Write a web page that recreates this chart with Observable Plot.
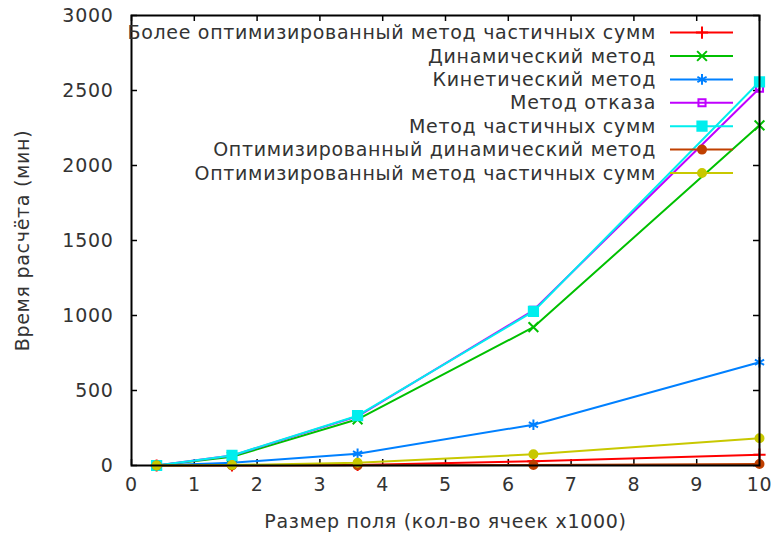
<!DOCTYPE html>
<html>
<head>
<meta charset="utf-8">
<script src="https://cdn.jsdelivr.net/npm/d3@7"></script>
<script src="https://cdn.jsdelivr.net/npm/@observablehq/plot@0.6"></script>
<style>
  html, body { margin: 0; padding: 0; background: #fff; }
  #chart svg { display: block; }
</style>
</head>
<body>
<div id="chart"></div>
<script>
// ---- data ----
const cellsK = [0.4, 1.6, 3.6, 6.4, 10];          // размер поля, тыс. ячеек
const seriesNames = [
  "Более оптимизированный метод частичных сумм",
  "Динамический метод",
  "Кинетический метод",
  "Метод отказа",
  "Метод частичных сумм",
  "Оптимизированный динамический метод",
  "Оптимизированный метод частичных сумм"
];
const moreOptPartialSums = [0, 1, 4, 28, 72];
const dynamicMethod      = [0, 58, 308, 922, 2268];
const kineticMethod      = [0, 18, 78, 272, 688];
const rejectionMethod    = [0, 66, 328, 1035, 2515];
const partialSums        = [0, 67, 332, 1027, 2558];
const optDynamic         = [0, 0, 1, 3, 10];
const optPartialSums     = [0, 3, 18, 75, 182];
const xTicks = [0, 1, 2, 3, 4, 5, 6, 7, 8, 9, 10];
const yTicks = [0, 500, 1000, 1500, 2000, 2500, 3000];

// ---- styles ----
const seriesValues = [moreOptPartialSums, dynamicMethod, kineticMethod, rejectionMethod, partialSums, optDynamic, optPartialSums];
const colors  = ["#ff0000", "#00c000", "#0080ff", "#c000ff", "#00eeee", "#c04000", "#c8c800"];
const symbols = ["plus", "times", "asterisk", "square", "square", "circle", "circle"];
const filled  = [false, false, false, false, true, true, true];
const radii   = [4, 4.5, 5, 4, 5.2, 4, 4];

const rows = [];
seriesNames.forEach((name, i) => cellsK.forEach((x, j) => rows.push({name, i, x, y: seriesValues[i][j]})));

const W = 774, H = 536, mL = 131, mR = 15, mT = 15, mB = 71;
const plotW = W - mL - mR, plotH = H - mT - mB;
const FONT = "DejaVu Sans";
const FS = 19, LS = "0.7px", TXT = "#333";

const marks = [];
// tick labels + axis titles
marks.push(Plot.axisX(xTicks, {tickSize: 0, tickPadding: 12, fontSize: FS, tickFormat: d => String(d),
  label: "Размер поля (кол-во ячеек x1000)", labelAnchor: "center", labelArrow: "none", labelOffset: 62}));
marks.push(Plot.axisY(yTicks, {tickSize: 0, tickPadding: 18, fontSize: FS, tickFormat: d => String(d),
  label: "Время расчёта (мин)", labelAnchor: "center", labelArrow: "none", labelOffset: 116}));
// inward ticks (gnuplot style, mirrored)
marks.push(Plot.ruleX(xTicks, {x: d => d, insetTop: plotH - 6, stroke: "#000", strokeWidth: 1.5}));
marks.push(Plot.ruleX(xTicks, {x: d => d, insetBottom: plotH - 6, stroke: "#000", strokeWidth: 1.5}));
marks.push(Plot.ruleY(yTicks, {y: d => d, insetRight: plotW - 6, stroke: "#000", strokeWidth: 1.5}));
marks.push(Plot.ruleY(yTicks, {y: d => d, insetLeft: plotW - 6, stroke: "#000", strokeWidth: 1.5}));

seriesNames.forEach((name, i) => {
  const data = rows.filter(r => r.i === i);
  marks.push(Plot.line(data, {x: "x", y: "y", stroke: colors[i], strokeWidth: 2}));
  marks.push(Plot.dot(data, {x: "x", y: "y", symbol: () => symbols[i], r: radii[i],
    stroke: colors[i], strokeWidth: 2,
    fill: filled[i] ? colors[i] : "none"}));
});
marks.push(Plot.frame({stroke: "#000", strokeWidth: 2}));

const chart = Plot.plot({
  width: W, height: H,
  marginLeft: mL, marginRight: mR, marginTop: mT, marginBottom: mB,
  style: {fontFamily: FONT, fontSize: FS + "px", color: TXT, background: "#fff", letterSpacing: LS},
  x: {domain: [0, 10]},
  y: {domain: [0, 3000]},
  symbol: {type: "identity"},
  marks
});
document.getElementById("chart").appendChild(chart);

// ---- legend (gnuplot-style key inside the plot, top right) ----
const svg = d3.select(chart);
const key = svg.append("g").attr("font-family", FONT).attr("font-size", FS).attr("letter-spacing", LS);
const symMap = {plus: d3.symbolPlus, times: d3.symbolTimes, asterisk: d3.symbolAsterisk, square: d3.symbolSquare, circle: d3.symbolCircle};
seriesNames.forEach((name, i) => {
  const cy = 32.6 + i * 23.4;
  key.append("text").attr("x", 656).attr("y", cy).attr("dy", "0.35em")
    .attr("text-anchor", "end").attr("fill", TXT).text(name);
  key.append("line").attr("x1", 670).attr("x2", 733).attr("y1", cy).attr("y2", cy)
    .attr("stroke", colors[i]).attr("stroke-width", 2);
  key.append("path").attr("transform", `translate(702,${cy})`)
    .attr("d", d3.symbol(symMap[symbols[i]], Math.PI * radii[i] * radii[i])())
    .attr("stroke", colors[i]).attr("stroke-width", 2)
    .attr("fill", filled[i] ? colors[i] : "none");
});
</script>
</body>
</html>
